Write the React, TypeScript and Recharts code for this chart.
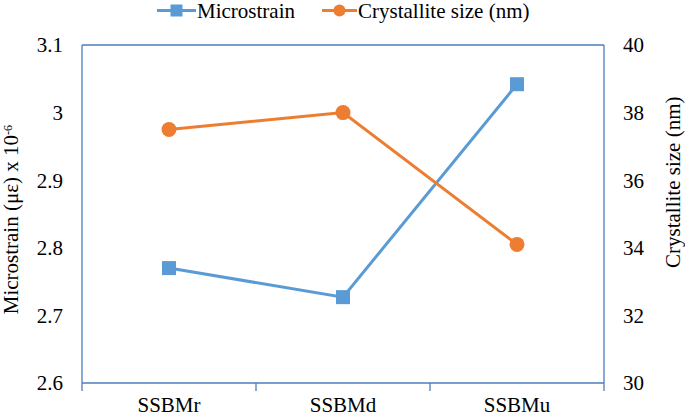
import React from "react";
import { LineChart, Line, XAxis, YAxis, ReferenceLine, Label } from "recharts";

const categories = ["SSBMr", "SSBMd", "SSBMu"];
const microstrain = [2.77, 2.727, 3.042];
const crystalliteSize = [37.5, 38.0, 34.1];
const leftTicks = [2.6, 2.7, 2.8, 2.9, 3, 3.1];
const rightTicks = [30, 32, 34, 36, 38, 40];

const data = categories.map((c, i) => ({
  name: c,
  micro: microstrain[i],
  cryst: crystalliteSize[i],
}));

const BLUE = "#5B9BD5";
const ORANGE = "#ED7D31";
const AXIS = "#4A7EBB";
const FONT = "Liberation Serif, Times New Roman, serif";
const FS = 21;

const SquareDot = (props: any) => {
  const { cx, cy } = props;
  if (cx == null || cy == null) return null;
  return <rect x={cx - 7} y={cy - 7} width={14} height={14} fill={BLUE} />;
};

const CircleDot = (props: any) => {
  const { cx, cy } = props;
  if (cx == null || cy == null) return null;
  return <circle cx={cx} cy={cy} r={7.5} fill={ORANGE} />;
};

const XTick = (props: any) => {
  const { x, y, payload, index } = props;
  const off = payload && payload.offset ? payload.offset : 0;
  return (
    <g>
      <line x1={x + off} x2={x + off} y1={y} y2={y + 8} stroke={AXIS} strokeWidth={1.3} />
      {index === 0 ? (
        <line x1={x - off} x2={x - off} y1={y} y2={y + 8} stroke={AXIS} strokeWidth={1.3} />
      ) : null}
      <text x={x} y={y + 29} textAnchor="middle" style={{ fontFamily: FONT }} fontSize={FS} fill="#000">
        {payload.value}
      </text>
    </g>
  );
};

const LeftLabel = () => {
  const cx = 18;
  const cy = 125;
  return (
    <text
      x={cx}
      y={cy}
      transform={`rotate(-90, ${cx}, ${cy})`}
      textAnchor="end"
      style={{ fontFamily: FONT }}
      fontSize={FS}
      fill="#000"
    >
      Microstrain (με) x 10
      <tspan dy={-6} fontSize={12}>-6</tspan>
    </text>
  );
};

const RightLabel = () => {
  const cx = 680;
  const cy = 268;
  return (
    <text
      x={cx}
      y={cy}
      transform={`rotate(-90, ${cx}, ${cy})`}
      textAnchor="start"
      style={{ fontFamily: FONT }}
      fontSize={FS}
      fill="#000"
    >
      Crystallite size (nm)
    </text>
  );
};

export default function App() {
  return (
    <div style={{ position: "absolute", left: 0, top: 0, width: 685, height: 417, background: "#fff" }}>
      <LineChart
        width={685}
        height={417}
        data={data}
        margin={{ top: 45, right: 0, bottom: 0, left: 0 }}
      >
        <XAxis
          dataKey="name"
          scale="band"
          height={34}
          axisLine={{ stroke: AXIS, strokeWidth: 1.3 }}
          tickLine={false}
          tickSize={0}
          tickMargin={0}
          tick={<XTick />}
          interval={0}
        />
        <YAxis
          yAxisId="left"
          orientation="left"
          width={82}
          domain={[2.6, 3.1]}
          ticks={leftTicks}
          allowDataOverflow
          axisLine={{ stroke: AXIS, strokeWidth: 1.3 }}
          tickLine={false}
          tickSize={0}
          tickMargin={19}
          tick={{ fontFamily: FONT, fontSize: FS, fill: "#000" }}
          tickFormatter={(v: number) => String(v)}
        >
          <Label content={<LeftLabel />} />
        </YAxis>
        <YAxis
          yAxisId="right"
          orientation="right"
          width={81}
          domain={[30, 40]}
          ticks={rightTicks}
          allowDataOverflow
          axisLine={{ stroke: AXIS, strokeWidth: 1.3 }}
          tickLine={false}
          tickSize={0}
          tickMargin={19}
          tick={{ fontFamily: FONT, fontSize: FS, fill: "#000" }}
        >
          <Label content={<RightLabel />} />
        </YAxis>
        <ReferenceLine yAxisId="left" y={3.1} stroke={AXIS} strokeWidth={1.3} />
        <Line
          yAxisId="left"
          dataKey="micro"
          stroke={BLUE}
          strokeWidth={3}
          dot={<SquareDot />}
          activeDot={false}
          isAnimationActive={false}
        />
        <Line
          yAxisId="right"
          dataKey="cryst"
          stroke={ORANGE}
          strokeWidth={3}
          dot={<CircleDot />}
          activeDot={false}
          isAnimationActive={false}
        />
      </LineChart>
      <svg
        width={685}
        height={30}
        style={{ position: "absolute", left: 0, top: 0, pointerEvents: "none" }}
      >
        <line x1={157} x2={196} y1={10.5} y2={10.5} stroke={BLUE} strokeWidth={3} />
        <rect x={170.5} y={4.5} width={12} height={12} fill={BLUE} />
        <text x={197} y={18} style={{ fontFamily: FONT }} fontSize={FS} fill="#000">
          Microstrain
        </text>
        <line x1={322} x2={357} y1={10.5} y2={10.5} stroke={ORANGE} strokeWidth={3} />
        <circle cx={339.5} cy={10.5} r={6} fill={ORANGE} />
        <text x={358} y={18} style={{ fontFamily: FONT }} fontSize={FS} fill="#000">
          Crystallite size (nm)
        </text>
      </svg>
    </div>
  );
}
